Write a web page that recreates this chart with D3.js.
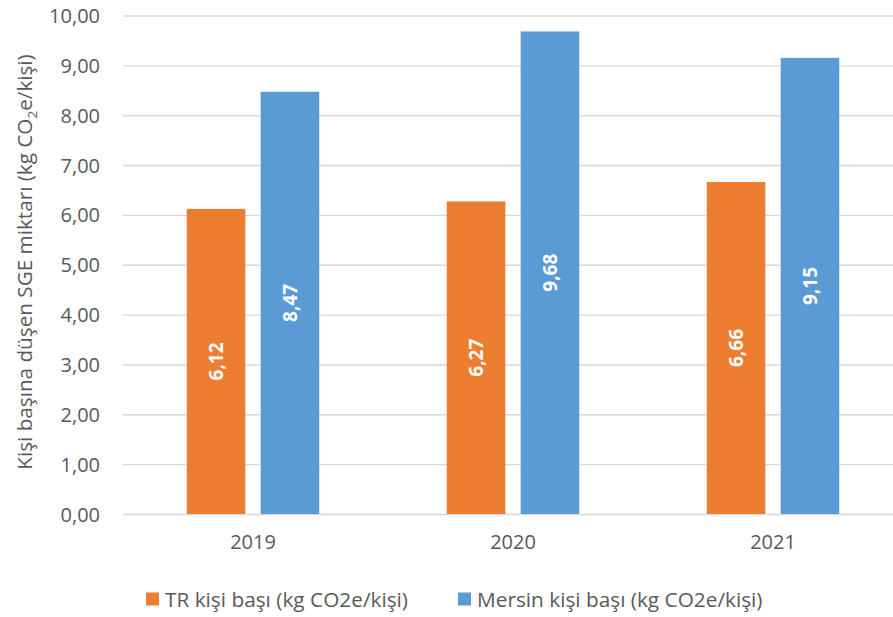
<!DOCTYPE html>
<html>
<head>
<meta charset="utf-8">
<script src="https://cdn.jsdelivr.net/npm/d3@7"></script>
<style>
  html, body { margin: 0; padding: 0; background: #fff; }
  svg text { font-family: "Open Sans", "Noto Sans", sans-serif; }
</style>
</head>
<body>
<svg id="chart" width="893" height="617"></svg>
<script>
// Per-capita GHG emissions by year
const years = ["2019", "2020", "2021"];
const seriesNames = ["TR kişi başı (kg CO2e/kişi)", "Mersin kişi başı (kg CO2e/kişi)"];
const trValues = [6.12, 6.27, 6.66];
const mersinValues = [8.47, 9.68, 9.15];
const seriesColors = ["#ED7D31", "#5B9BD5"];
const yTicks = [0, 1, 2, 3, 4, 5, 6, 7, 8, 9, 10];

const values = [trValues, mersinValues];
const fmt = v => v.toFixed(2).replace(".", ",");

const svg = d3.select("#chart");
const plot = { left: 123, right: 903, top: 15.5, bottom: 514 };

const x0 = d3.scaleBand().domain(years).range([plot.left, plot.right]);
const groupW = 132.5;
const x1 = d3.scaleBand().domain(d3.range(seriesNames.length))
  .range([-groupW / 2, groupW / 2]).paddingInner(0.207);
const y = d3.scaleLinear().domain([0, 10]).range([plot.bottom, plot.top]);

// horizontal gridlines
const yAxis = d3.axisLeft(y).tickValues(yTicks).tickSize(-(plot.right - plot.left))
  .tickPadding(23).tickFormat(fmt);
const gy = svg.append("g").attr("transform", `translate(${plot.left},0)`).call(yAxis);
gy.select(".domain").remove();
gy.selectAll(".tick line").attr("stroke", "#D9D9D9").attr("stroke-width", 1.4);
gy.selectAll(".tick text").attr("fill", "#595959").attr("font-size", 20)
  .attr("dy", "0.35em");

// category axis labels
const xAxis = d3.axisBottom(x0).tickSize(0).tickPadding(21);
const gx = svg.append("g").attr("transform", `translate(0,${plot.bottom})`).call(xAxis);
gx.select(".domain").remove();
gx.selectAll(".tick text").attr("fill", "#595959").attr("font-size", 20)
  .attr("dy", "0.71em");

// bars
const groups = svg.append("g").selectAll("g").data(years).join("g")
  .attr("transform", d => `translate(${x0(d) + x0.bandwidth() / 2},0)`);

groups.each(function (yr, i) {
  const g = d3.select(this);
  values.forEach((arr, s) => {
    const v = arr[i];
    g.append("rect")
      .attr("x", x1(s)).attr("width", x1.bandwidth())
      .attr("y", y(v)).attr("height", y(0) - y(v))
      .attr("fill", seriesColors[s]);
    const cx = x1(s) + x1.bandwidth() / 2;
    const cy = (y(v) + y(0)) / 2;
    g.append("text")
      .attr("transform", `translate(${cx},${cy}) rotate(-90)`)
      .attr("text-anchor", "middle").attr("dy", "0.36em")
      .attr("fill", "#fff").attr("font-weight", "bold").attr("font-size", 19)
      .text(fmt(v));
  });
});

// y-axis title with subscript 2
const yTitle = svg.append("text")
  .attr("transform", `translate(32,262) rotate(-90)`)
  .attr("text-anchor", "middle").attr("fill", "#595959").attr("font-size", 20.7);
yTitle.append("tspan").text("Kişi başına düşen SGE miktarı (kg CO");
yTitle.append("tspan").attr("font-size", 13.5).attr("dy", 5).text("2");
yTitle.append("tspan").attr("dy", -5).text("e/kişi)");

// legend
const legendX = [146, 458];
const legend = svg.append("g").selectAll("g").data(seriesNames).join("g")
  .attr("transform", (d, i) => `translate(${legendX[i]},592.5)`);
legend.append("rect").attr("width", 13).attr("height", 13)
  .attr("fill", (d, i) => seriesColors[i]);
legend.append("text").attr("x", 19).attr("y", 6.5).attr("dy", "0.36em")
  .attr("fill", "#595959").attr("font-size", 20.8).text(d => d);
</script>
</body>
</html>
